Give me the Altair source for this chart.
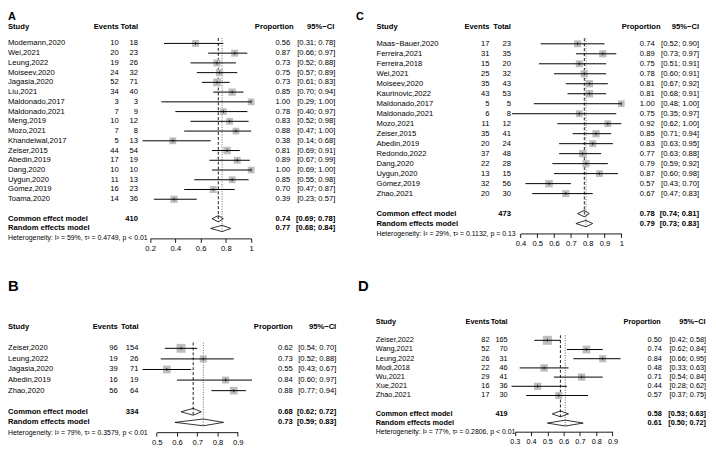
import altair as alt
import pandas as pd

FONT = "Liberation Sans"
SX = 1.0
SY = 1.0

# ---------------- Panel A ----------------
a_study = ["Modemann,2020", "Wei,2021", "Leung,2022", "Moiseev,2020", "Jagasia,2020", "Liu,2021",
           "Maldonado,2017", "Maldonado,2021", "Meng,2019", "Mozo,2021", "Khandelwal,2017",
           "Zeiser,2015", "Abedin,2019", "Dang,2020", "Uygun,2020", "Gómez,2019", "Toama,2020"]
a_events = [10, 20, 19, 24, 52, 34, 3, 7, 10, 7, 5, 44, 17, 10, 11, 16, 14]
a_total = [18, 23, 26, 32, 71, 40, 3, 9, 12, 8, 13, 54, 19, 10, 13, 23, 36]
a_prop = [0.56, 0.87, 0.73, 0.75, 0.73, 0.85, 1.00, 0.78, 0.83, 0.88, 0.38, 0.81, 0.89, 1.00, 0.85, 0.70, 0.39]
a_lo = [0.31, 0.66, 0.52, 0.57, 0.61, 0.70, 0.29, 0.40, 0.52, 0.47, 0.14, 0.69, 0.67, 0.69, 0.55, 0.47, 0.23]
a_hi = [0.78, 0.97, 0.88, 0.89, 0.83, 0.94, 1.00, 0.97, 0.98, 1.00, 0.68, 0.91, 0.99, 1.00, 0.98, 0.87, 0.57]
a_n = 410
a_common = [0.74, 0.69, 0.78]
a_random = [0.77, 0.68, 0.84]
a_het = "Heterogeneity: I² = 59%, τ² = 0.4749, p < 0.01"
a_ticks = [0.2, 0.4, 0.6, 0.8, 1.0]

# ---------------- Panel B ----------------
b_study = ["Zeiser,2020", "Leung,2022", "Jagasia,2020", "Abedin,2019", "Zhao,2020"]
b_events = [96, 19, 39, 16, 56]
b_total = [154, 26, 71, 19, 64]
b_prop = [0.62, 0.73, 0.55, 0.84, 0.88]
b_lo = [0.54, 0.52, 0.43, 0.60, 0.77]
b_hi = [0.70, 0.88, 0.67, 0.97, 0.94]
b_n = 334
b_common = [0.68, 0.62, 0.72]
b_random = [0.73, 0.59, 0.83]
b_het = "Heterogeneity: I² = 79%, τ² = 0.3579, p < 0.01"
b_ticks = [0.5, 0.6, 0.7, 0.8, 0.9]

# ---------------- Panel C ----------------
c_study = ["Maas−Bauer,2020", "Ferreira,2021", "Ferreira,2018", "Wei,2021", "Moiseev,2020",
           "Kaurinovic,2022", "Maldonado,2017", "Maldonado,2021", "Mozo,2021", "Zeiser,2015",
           "Abedin,2019", "Redondo,2022", "Dang,2020", "Uygun,2020", "Gómez,2019", "Zhao,2021"]
c_events = [17, 31, 15, 25, 35, 43, 5, 6, 11, 35, 20, 37, 22, 13, 32, 20]
c_total = [23, 35, 20, 32, 43, 53, 5, 8, 12, 41, 24, 48, 28, 15, 56, 30]
c_prop = [0.74, 0.89, 0.75, 0.78, 0.81, 0.81, 1.00, 0.75, 0.92, 0.85, 0.83, 0.77, 0.79, 0.87, 0.57, 0.67]
c_lo = [0.52, 0.73, 0.51, 0.60, 0.67, 0.68, 0.48, 0.35, 0.62, 0.71, 0.63, 0.63, 0.59, 0.60, 0.43, 0.47]
c_hi = [0.90, 0.97, 0.91, 0.91, 0.92, 0.91, 1.00, 0.97, 1.00, 0.94, 0.95, 0.88, 0.92, 0.98, 0.70, 0.83]
c_n = 473
c_common = [0.78, 0.74, 0.81]
c_random = [0.79, 0.73, 0.83]
c_het = "Heterogeneity: I² = 29%, τ² = 0.1132, p = 0.13"
c_ticks = [0.4, 0.5, 0.6, 0.7, 0.8, 0.9, 1.0]

# ---------------- Panel D ----------------
d_study = ["Zeiser,2022", "Wang,2021", "Leung,2022", "Modi,2018", "Wu,2021", "Xue,2021", "Zhao,2021"]
d_events = [82, 52, 26, 22, 29, 16, 17]
d_total = [165, 70, 31, 46, 41, 36, 30]
d_prop = [0.50, 0.74, 0.84, 0.48, 0.71, 0.44, 0.57]
d_lo = [0.42, 0.62, 0.66, 0.33, 0.54, 0.28, 0.37]
d_hi = [0.58, 0.84, 0.95, 0.63, 0.84, 0.62, 0.75]
d_n = 419
d_common = [0.58, 0.53, 0.63]
d_random = [0.61, 0.50, 0.72]
d_het = "Heterogeneity: I² = 77%, τ² = 0.2806, p < 0.01"
d_ticks = [0.3, 0.4, 0.5, 0.6, 0.7, 0.8, 0.9]

headers = ["Study", "Events", "Total", "Proportion", "95%−CI"]
summary_labels = ["Common effect model", "Random effects model"]

# layout (reference pixel positions; the page margin puts the chart origin at 8,8)
LA = dict(ox=8, oy=8, W=350, H=258, yh=21.6, hrow=0.35, dy=9.85, x0=151.7, x1=253.9,
          name=8, ev=120, tot=139.5, prop=293.5, phdr=297, ci=339, cihdr=338,
          lx=8, ly=18.0, lfs=11, axy=238.5, fs=7.7, hfs=7.0)
LC = dict(ox=358, oy=8, W=358, H=258, yh=21.5, hrow=0.35, dy=10.1, x0=526.3, x1=628.3,
          name=380.7, ev=495, tot=516.7, prop=662, phdr=668, ci=707, cihdr=707,
          lx=360, ly=18.0, lfs=11, axy=233.5, fs=7.7, hfs=7.0)
LB = dict(ox=8, oy=266, W=350, H=183, yh=328.3, hrow=0, dy=10.7, x0=158.4, x1=240.4,
          name=8, ev=119, tot=140, prop=296, phdr=296, ci=340, cihdr=340,
          lx=8, ly=292, lfs=15, axy=434.5, fs=7.7, hfs=7.0)
LD = dict(ox=358, oy=266, W=358, H=183, yh=323, hrow=0, dy=9.3, x0=520.6, x1=619.4,
          name=380, ev=495, tot=513.3, prop=669.3, phdr=668.3, ci=714, cihdr=713.5,
          lx=362, ly=292, lfs=15, axy=434, fs=7.4, hfs=7.0)


def panel(letter, study, events, total, prop, lo, hi, ntot, common, random, het, ticks, L):
    ox, oy = L["ox"], L["oy"]
    X = lambda rx: (rx - ox) * SX
    Y = lambda ry: (ry - oy) * SY
    n = len(study)
    r_com, r_ran, r_het = n + 3, n + 4, n + 5
    W, H, fs = L["W"], L["H"], L["fs"]

    ys = alt.Scale(domain=[0, r_het], range=[Y(L["yh"]), Y(L["yh"] + r_het * L["dy"])],
                   zero=False, nice=False)
    xs = alt.Scale(domain=[ticks[0], ticks[-1]], range=[X(L["x0"]), X(L["x1"])],
                   zero=False, nice=False)
    xax = alt.Axis(values=ticks, format="~g", offset=Y(L["axy"]) - H, tickSize=4, tickWidth=0.9,
                   tickColor="black", domainColor="black", domainWidth=0.9, labelFontSize=fs,
                   labelFont=FONT, labelColor="black", labelPadding=2, grid=False, title=None,
                   labelFlush=False, labelOverlap=False)
    yenc = lambda f: alt.Y(f"{f}:Q", scale=ys, axis=None, stack=None)
    xenc = lambda f: alt.X(f"{f}:Q", scale=xs, axis=xax)

    df = pd.DataFrame(dict(study=study, events=events, total=total, prop=prop, lo=lo, hi=hi))
    df["row"] = list(range(2, n + 2))
    df["ptxt"] = [f"{p:.2f}" for p in prop]
    df["citxt"] = [f"[{a:.2f}; {b:.2f}]" for a, b in zip(lo, hi)]

    sm = pd.DataFrame(dict(label=summary_labels, ntxt=[str(ntot), ""],
                           est=[common[0], random[0]], lo=[common[1], random[1]],
                           hi=[common[2], random[2]], row=[r_com, r_ran]))
    sm["ptxt"] = [f"{p:.2f}" for p in sm["est"]]
    sm["citxt"] = [f"[{a:.2f}; {b:.2f}]" for a, b in zip(sm["lo"], sm["hi"])]

    hd = pd.DataFrame(dict(row=[L["hrow"]], a=[headers[0]], b=[headers[1]], c=[headers[2]],
                           d=[headers[3]], e=[headers[4]]))
    ht = pd.DataFrame(dict(row=[r_het], t=[het]))

    h = 0.32
    dd = pd.DataFrame(dict(
        g=[0, 0, 0, 1, 1, 1],
        x=[common[1], common[0], common[2], random[1], random[0], random[2]],
        ya=[r_com, r_com - h, r_com, r_ran, r_ran - h, r_ran],
        yb=[r_com, r_com + h, r_com, r_ran, r_ran + h, r_ran]))

    vc = pd.DataFrame(dict(est=[common[0]], y1=[1.45], y2=[r_com + h]))
    vr = pd.DataFrame(dict(est=[random[0]], y1=[1.45], y2=[r_ran + h]))

    def col(data, field, rx, align, bold=False, size=None):
        return alt.Chart(data).mark_text(
            align=align, baseline="middle", font=FONT, fontSize=size or fs,
            fontWeight="bold" if bold else "normal", color="black"
        ).encode(x=alt.value(X(rx)), y=yenc("row"), text=alt.Text(f"{field}:N"))

    layers = [
        alt.Chart(vc).mark_rule(color="black", strokeWidth=0.9, strokeDash=[3, 2]).encode(
            x=xenc("est"), y=yenc("y1"), y2="y2:Q"),
        alt.Chart(vr).mark_rule(color="#555555", strokeWidth=0.9, strokeDash=[1, 1.5]).encode(
            x=xenc("est"), y=yenc("y1"), y2="y2:Q"),
        alt.Chart(df).mark_square(color="#BEBEBE", opacity=1, filled=True).encode(
            x=xenc("prop"), y=yenc("row"),
            size=alt.Size("total:Q", scale=alt.Scale(domain=[0, 170], range=[45, 85]), legend=None)),
        alt.Chart(df).mark_rule(color="black", strokeWidth=1).encode(
            x=xenc("lo"), x2="hi:Q", y=yenc("row")),
        alt.Chart(df).mark_tick(orient="vertical", size=3, thickness=1, color="black").encode(
            x=xenc("prop"), y=yenc("row")),
        alt.Chart(dd).mark_area(fill="white", fillOpacity=0, stroke="black", strokeWidth=0.8,
                                interpolate="linear").encode(
            x=xenc("x"), y=yenc("ya"), y2="yb:Q", detail="g:N"),
        col(hd, "a", L["name"], "left", bold=True),
        col(hd, "b", L["ev"], "right", bold=True),
        col(hd, "c", L["tot"], "right", bold=True),
        col(hd, "d", L["phdr"], "right", bold=True),
        col(hd, "e", L["cihdr"], "right", bold=True),
        col(df, "study", L["name"], "left"),
        col(df, "events", L["ev"], "right"),
        col(df, "total", L["tot"], "right"),
        col(df, "ptxt", L["prop"], "right"),
        col(df, "citxt", L["ci"], "right"),
        col(sm, "label", L["name"], "left", bold=True),
        col(sm, "ntxt", L["tot"], "right", bold=True),
        col(sm, "ptxt", L["prop"], "right", bold=True),
        col(sm, "citxt", L["ci"], "right", bold=True),
        col(ht, "t", L["name"], "left", size=L["hfs"]),
        alt.Chart(pd.DataFrame(dict(t=[letter]))).mark_text(
            align="left", baseline="alphabetic", font=FONT, fontSize=L["lfs"], fontWeight="bold",
            color="black").encode(x=alt.value(X(L["lx"])), y=alt.value(Y(L["ly"])), text="t:N"),
    ]
    return alt.layer(*layers).properties(width=W, height=H)


pa = panel("A", a_study, a_events, a_total, a_prop, a_lo, a_hi, a_n, a_common, a_random, a_het, a_ticks, LA)
pb = panel("B", b_study, b_events, b_total, b_prop, b_lo, b_hi, b_n, b_common, b_random, b_het, b_ticks, LB)
pc = panel("C", c_study, c_events, c_total, c_prop, c_lo, c_hi, c_n, c_common, c_random, c_het, c_ticks, LC)
pd_ = panel("D", d_study, d_events, d_total, d_prop, d_lo, d_hi, d_n, d_common, d_random, d_het, d_ticks, LD)

top = alt.hconcat(pa, pc, spacing=0).resolve_scale(x="independent", y="independent", size="independent")
bot = alt.hconcat(pb, pd_, spacing=0).resolve_scale(x="independent", y="independent", size="independent")
chart = (
    alt.vconcat(top, bot, spacing=0)
    .resolve_scale(x="independent", y="independent", size="independent")
    .properties(padding=0, background="white")
    .configure_view(stroke=None)
    .configure_concat(spacing=0)
)

chart.save("out.html", embed_options={"renderer": "svg", "actions": False})
